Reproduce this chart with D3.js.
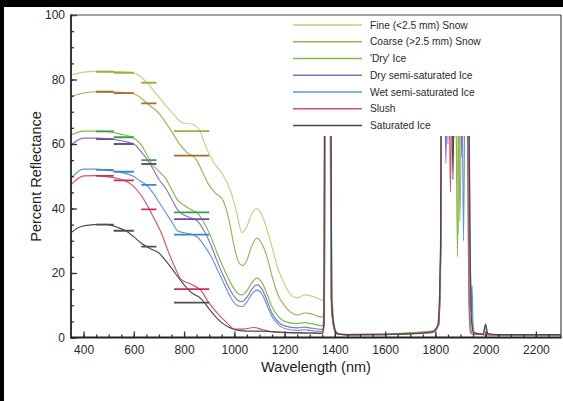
<!DOCTYPE html>
<html><head><meta charset="utf-8">
<script src="https://cdn.jsdelivr.net/npm/d3@7"></script>
<style>
html,body{margin:0;padding:0;background:#000;}
svg{display:block}
text{font-family:"Liberation Sans",Arial,Helvetica,sans-serif;}
</style></head><body>
<svg id="chart" width="563" height="401"></svg>
<script>
// ---------------- DATA ----------------
const seriesNames = ["Fine (<2.5 mm) Snow","Coarse (>2.5 mm) Snow","'Dry' Ice","Dry semi-saturated Ice","Wet semi-saturated Ice","Slush","Saturated Ice"];
const seriesColors = ["#c9cf7c","#aea85a","#7dbb4f","#8e6cc4","#5b9bd5","#d4506e","#4a4a4a"];
const bandColors   = ["#a9aa3c","#a86a2e","#3f9a4a","#6a4e9a","#3d86c6","#cc2f4f","#505050"];
const bandRanges = [[450,520],[520,600],[630,690],[760,900]];
const xTickValues = [400,600,800,1000,1200,1400,1600,1800,2000,2200];
const yTickValues = [0,20,40,60,80,100];

const fineSnow = [[350,81.4],[400,82.3],[450,82.5],[500,82.5],[550,82.4],[600,82.0],[625,81.0],[650,79.2],[700,74.5],[755,69.5],[795,66.5],[830,66.2],[860,64.5],[885,59.5],[920,54.0],[950,51.0],[985,45.5],[1010,38.5],[1030,32.5],[1050,34.5],[1070,38.5],[1090,40.0],[1110,38.0],[1130,33.5],[1150,28.0],[1175,21.0],[1200,16.5],[1225,13.2],[1250,12.3],[1280,13.2],[1300,13.0],[1325,12.4],[1350,11.5],
  [1356,14],[1361,98],[1380,98],[1385,16],[1392,6],[1400,2.5],[1412,1.3],[1450,1.0],[1600,1.1],[1700,1.4],[1790,2.0],[1812,4],[1821,30],[1826,98],[1840,98],[1850,70],[1860,98],[1882,98],[1892,32],[1902,98],[1925,98],[1936,10],[1942,2],[1950,1.1],[1990,1.0],[2000,1.6],[2010,1.0],[2050,0.9],[2150,0.9],[2300,0.9]];
const coarseSnow = [[350,74.7],[400,75.8],[450,76.2],[500,76.2],[550,76.0],[600,75.6],[625,74.5],[650,72.8],[700,69.5],[755,63.3],[780,60.2],[810,57.5],[850,55.0],[875,51.0],[895,47.8],[925,44.8],[955,42.5],[980,36.0],[1000,28.0],[1020,23.0],[1035,22.3],[1050,24.0],[1070,28.5],[1090,30.8],[1110,29.0],[1130,25.0],[1150,19.0],[1175,13.0],[1200,9.8],[1225,7.8],[1250,7.0],[1280,7.6],[1300,7.5],[1325,6.8],[1350,6.3],
  [1357,9],[1361,98],[1381,98],[1386,12],[1393,5],[1402,2],[1412,1.2],[1450,0.9],[1600,1.0],[1700,1.3],[1790,1.8],[1813,4],[1822,30],[1827,98],[1866,98],[1875,62],[1884,98],[1889,98],[1898,36],[1907,98],[1926,98],[1937,8],[1944,1.5],[1955,1.0],[1990,0.9],[2050,0.8],[2150,0.8],[2300,0.8]];
const dryIce = [[350,62.8],[400,64.0],[450,64.0],[500,63.8],[550,63.0],[580,62.5],[600,61.8],[625,60.2],[650,57.0],[675,53.5],[700,51.5],[725,49.5],[750,46.0],[775,42.5],[800,41.0],[830,39.5],[855,38.5],[880,35.5],[905,31.5],[930,26.5],[960,21.0],[985,17.0],[1010,14.0],[1030,13.2],[1050,14.5],[1070,17.0],[1090,18.4],[1110,17.0],[1130,13.5],[1150,9.5],[1175,6.5],[1200,5.0],[1250,4.3],[1280,4.6],[1300,4.4],[1325,4.0],[1350,3.6],
  [1357,8],[1361,98],[1380,98],[1384,12],[1390,10.5],[1397,4],[1410,1.2],[1450,0.9],[1600,1.0],[1700,1.5],[1790,2.1],[1812,4],[1821,30],[1826,98],[1852,98],[1860,66],[1868,98],[1879,98],[1888,25],[1897,98],[1922,98],[1934,12],[1942,2],[1952,1.0],[1990,0.9],[2050,0.8],[2150,0.8],[2300,0.8]];
const drySemiSatIce = [[350,59.7],[400,61.8],[450,61.8],[500,61.6],[550,61.0],[600,60.0],[625,58.0],[650,55.5],[675,52.5],[700,49.0],[725,46.5],[750,43.0],[775,39.5],[800,38.0],[830,37.0],[855,36.0],[880,33.0],[905,29.0],[930,24.0],[960,18.5],[985,14.5],[1010,11.8],[1030,11.1],[1050,12.5],[1070,15.0],[1090,16.3],[1110,15.0],[1130,11.5],[1150,7.5],[1175,4.8],[1200,3.6],[1250,3.0],[1280,3.2],[1300,3.0],[1325,2.7],[1350,2.5],
  [1358,6],[1362,98],[1381,98],[1386,10],[1394,4],[1404,1.5],[1415,1.1],[1450,0.8],[1600,0.9],[1700,1.2],[1790,1.7],[1813,4],[1822,30],[1827,98],[1834,98],[1842,54],[1850,98],[1897,98],[1905,56],[1913,98],[1928,98],[1938,18],[1941,8],[1944,14],[1948,3],[1955,1.0],[1990,1.0],[2000,3.8],[2008,1.0],[2050,0.8],[2150,0.8],[2300,0.8]];
const wetSemiSatIce = [[350,49.4],[400,52.2],[450,52.2],[500,51.8],[550,51.2],[600,49.9],[625,48.5],[650,47.3],[675,45.0],[700,42.0],[725,39.0],[750,36.0],[775,33.0],[800,32.5],[830,32.0],[855,31.0],[880,28.5],[905,25.5],[930,21.5],[960,16.5],[985,12.5],[1010,10.0],[1030,9.6],[1050,11.0],[1070,13.5],[1090,14.7],[1110,13.5],[1130,10.0],[1150,6.5],[1175,4.0],[1200,2.8],[1250,2.2],[1280,2.4],[1300,2.2],[1325,2.0],[1350,1.9],
  [1358,5],[1362,98],[1382,98],[1387,9],[1395,3.5],[1405,1.4],[1415,1.0],[1450,0.8],[1600,0.9],[1700,1.2],[1790,1.6],[1813,4],[1822,30],[1827,98],[1843,98],[1850,60],[1857,98],[1904,98],[1912,30],[1920,98],[1930,98],[1940,20],[1943,9],[1946,16],[1950,4],[1958,1.2],[1990,1.0],[2000,3.0],[2008,1.0],[2050,0.8],[2150,0.8],[2300,0.8]];
const slush = [[350,47.3],[400,50.1],[450,50.2],[500,49.8],[550,49.0],[580,48.0],[600,46.8],[625,44.5],[650,41.5],[670,38.5],[710,32.3],[735,27.1],[762,22.0],[788,18.0],[828,16.5],[868,14.5],[894,11.3],[933,7.5],[973,4.4],[1000,2.6],[1040,2.6],[1075,3.1],[1110,2.5],[1150,1.8],[1200,1.5],[1300,1.4],[1350,1.3],
  [1358,4],[1362,98],[1382,98],[1388,9],[1396,3],[1406,1.2],[1416,1.0],[1450,0.8],[1600,0.9],[1700,1.1],[1790,1.6],[1813,4],[1822,30],[1827,98],[1852,98],[1860,45],[1868,98],[1908,98],[1915,62],[1922,98],[1924,98],[1934,10],[1940,1.5],[1950,1.0],[1990,0.9],[2050,0.8],[2150,0.8],[2300,0.8]];
const saturatedIce = [[350,32.5],[390,34.4],[440,35.0],[490,35.1],[540,34.0],[570,33.0],[600,31.2],[630,29.2],[665,27.6],[700,26.2],[730,23.5],[750,21.5],[788,17.5],[828,14.0],[868,12.0],[900,8.8],[925,6.5],[950,4.6],[980,3.1],[1010,2.3],[1050,2.0],[1100,2.0],[1150,1.8],[1200,1.6],[1300,1.4],[1350,1.3],
  [1356,4],[1360,98],[1383,98],[1388,10],[1396,4],[1406,1.5],[1418,1.0],[1450,0.9],[1600,1.0],[1700,1.2],[1790,1.8],[1810,4],[1820,25],[1825,98],[1862,98],[1870,49],[1878,98],[1930,98],[1938,30],[1944,5],[1952,1.5],[1990,1.1],[2000,4.2],[2008,1.2],[2050,0.9],[2150,0.9],[2300,0.9]];

const fineBands      = [82.4, 82.1, 79.0, 64.0];
const coarseBands    = [76.2, 75.8, 72.6, 56.4];
const dryIceBands    = [63.9, 62.1, 55.0, 38.8];
const drySemiBands   = [61.5, 60.0, 53.8, 36.7];
const wetSemiBands   = [52.0, 51.4, 47.3, 31.9];
const slushBands     = [50.1, 48.7, 39.7, 15.0];
const saturatedBands = [35.0, 33.1, 28.2, 10.8];

const allSeries = [fineSnow, coarseSnow, dryIce, drySemiSatIce, wetSemiSatIce, slush, saturatedIce];
const allBands = [fineBands, coarseBands, dryIceBands, drySemiBands, wetSemiBands, slushBands, saturatedBands];

// ---------------- CHART ----------------
const svg = d3.select("#chart");
svg.append("rect").attr("x",4).attr("y",7).attr("width",559).attr("height",394).attr("fill","#fff");

const L = 71, R = 561, T = 15, B = 337.5;
const x = d3.scaleLinear().domain([350,2300]).range([L,R]);
const y = d3.scaleLinear().domain([0,100]).range([B,T]);

svg.append("clipPath").attr("id","plotclip").append("rect")
  .attr("x",L).attr("y",T).attr("width",R-L).attr("height",B-T);

const plot = svg.append("g").attr("clip-path","url(#plotclip)");
const line = d3.line().x(d=>x(d[0])).y(d=>y(d[1])).curve(d3.curveMonotoneX);

allSeries.forEach((s,i)=>{
  plot.append("path").datum(s).attr("d",line)
    .attr("fill","none").attr("stroke",seriesColors[i]).attr("stroke-width",1.15);
});

allBands.forEach((b,i)=>{
  plot.selectAll(null).data(b.map((v,j)=>({v:v, r:bandRanges[j]}))).enter().append("line")
    .attr("x1",d=>x(d.r[0])).attr("x2",d=>x(d.r[1]))
    .attr("y1",d=>y(d.v)).attr("y2",d=>y(d.v))
    .attr("stroke",bandColors[i]).attr("stroke-width",1.8);
});

// legend (white background hides the off-scale spikes)
svg.append("rect").attr("x",288).attr("y",16).attr("width",268).attr("height",120).attr("fill","#fff");
const lg = svg.append("g");
seriesNames.forEach((n,i)=>{
  const yy = 25 + i*16.75;
  lg.append("line").attr("x1",293).attr("x2",362).attr("y1",yy).attr("y2",yy)
    .attr("stroke",seriesColors[i]).attr("stroke-width",1.3);
  lg.append("text").attr("x",370).attr("y",yy).attr("dy","0.35em")
    .attr("font-size","10.2px").attr("fill","#2a2a2a").text(n);
});

// axes
const xAxis = svg.append("g").attr("transform",`translate(0,${B})`)
  .call(d3.axisBottom(x).tickValues(xTickValues).tickSize(-6).tickPadding(8).tickFormat(d3.format("d")));
const xMinor = svg.append("g").attr("transform",`translate(0,${B})`)
  .call(d3.axisBottom(x).tickValues(d3.range(400,2300,50)).tickSize(-3).tickFormat(""));
const yAxis = svg.append("g").attr("transform",`translate(${L},0)`)
  .call(d3.axisLeft(y).tickValues(yTickValues).tickSize(-6).tickPadding(6));
const yMinor = svg.append("g").attr("transform",`translate(${L},0)`)
  .call(d3.axisLeft(y).tickValues(d3.range(0,101,5)).tickSize(-3).tickFormat(""));
[xAxis,xMinor,yAxis,yMinor].forEach(g=>{
  g.select(".domain").remove();
  g.selectAll(".tick line").attr("stroke","#333").attr("stroke-width",1.3);
  g.selectAll("text").attr("font-size","12px").attr("fill","#2a2a2a")
    .attr("font-family","'Liberation Sans',Arial,sans-serif");
});

// frame
svg.append("line").attr("x1",L).attr("x2",R).attr("y1",T).attr("y2",T).attr("stroke","#444").attr("stroke-width",1.2);
svg.append("line").attr("x1",R).attr("x2",R).attr("y1",T).attr("y2",B).attr("stroke","#444").attr("stroke-width",1.2);
svg.append("line").attr("x1",L).attr("x2",L).attr("y1",T-0.6).attr("y2",B).attr("stroke","#222").attr("stroke-width",1.8);
svg.append("line").attr("x1",L-0.9).attr("x2",R+0.6).attr("y1",B).attr("y2",B).attr("stroke","#222").attr("stroke-width",1.8);

// titles
svg.append("text").attr("x",(L+R)/2).attr("y",371.5).attr("text-anchor","middle")
  .attr("font-size","14.5px").attr("fill","#222").text("Wavelength (nm)");
svg.append("text").attr("transform","translate(40.5,176.5) rotate(-90)").attr("text-anchor","middle")
  .attr("font-size","14.5px").attr("fill","#222").text("Percent Reflectance");
</script>
</body></html>
